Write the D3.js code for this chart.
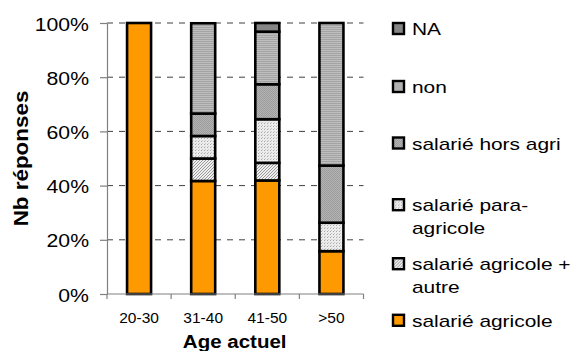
<!DOCTYPE html>
<html>
<head>
<meta charset="utf-8">
<script src="https://cdn.jsdelivr.net/npm/d3@7"></script>
<style>
  html, body { margin: 0; padding: 0; background: #fff; }
  svg { display: block; font-family: "Liberation Sans", Arial, sans-serif; }
</style>
</head>
<body>
<svg id="chart" width="575" height="351"></svg>
<script>
// Age groups along the x axis
const categories = ["20-30", "31-40", "41-50", ">50"];

// Share of answers (%) per age group, one array per answer
const salarieAgricole      = [100, 41.7, 41.9, 15.8];
const salarieAgricoleAutre = [0,   8.3,  6.5,  0];
const salarieParaAgricole  = [0,   8.3,  16.1, 10.5];
const salarieHorsAgri      = [0,   8.3,  12.9, 21.1];
const nonValues            = [0,   33.3, 19.4, 52.6];
const naValues             = [0,   0,    3.2,  0];

// Stack order, bottom to top
const seriesKeys = ["salarié agricole", "salarié agricole + autre", "salarié para-agricole",
                    "salarié hors agri", "non", "NA"];
const seriesValues = [salarieAgricole, salarieAgricoleAutre, salarieParaAgricole,
                      salarieHorsAgri, nonValues, naValues];

// Legend entries, top to bottom, with their wrapped lines
const legendKeys = ["NA", "non", "salarié hors agri", "salarié para-agricole",
                    "salarié agricole + autre", "salarié agricole"];
const legendLines = [["NA"], ["non"], ["salarié hors agri"], ["salarié para-", "agricole"],
                     ["salarié agricole +", "autre"], ["salarié agricole"]];

const yTicks = [0, 20, 40, 60, 80, 100];

const svg = d3.select("#chart");
const defs = svg.append("defs");

// Fill patterns for the grey series
function pattern(id, w, h, bg, draw) {
  const p = defs.append("pattern").attr("id", id).attr("patternUnits", "userSpaceOnUse")
    .attr("width", w).attr("height", h);
  p.append("rect").attr("width", w).attr("height", h).attr("fill", bg);
  draw(p);
}
pattern("pNon", 2, 2, "#bebebe", p => {
  p.append("rect").attr("y", 1).attr("width", 2).attr("height", 1).attr("fill", "#a4a4a4");
});
pattern("pHors", 2, 2, "#b3b3b3", p => {
  p.append("rect").attr("width", 1).attr("height", 1).attr("fill", "#9c9c9c");
  p.append("rect").attr("x", 1).attr("y", 1).attr("width", 1).attr("height", 1).attr("fill", "#9c9c9c");
});
pattern("pPara", 3, 3, "#ececec", p => {
  p.append("rect").attr("width", 1).attr("height", 1).attr("fill", "#a8a8a8");
  p.append("rect").attr("x", 1).attr("y", 2).attr("width", 1).attr("height", 1).attr("fill", "#c8c8c8");
});
pattern("pAutre", 3, 3, "#eeeeee", p => {
  p.append("path").attr("d", "M0,3 L3,0 M-1,1 L1,-1 M2,4 L4,2")
    .attr("stroke", "#9a9a9a").attr("stroke-width", 1);
});

const fills = {
  "salarié agricole": "#ff9900",
  "salarié agricole + autre": "url(#pAutre)",
  "salarié para-agricole": "url(#pPara)",
  "salarié hors agri": "url(#pHors)",
  "non": "url(#pNon)",
  "NA": "#858585"
};

// Plot area
const plotLeft = 107, plotRight = 363.5, plotTop = 23, plotBottom = 294;

const x = d3.scaleBand().domain(categories).range([plotLeft, plotRight]).paddingInner(0).paddingOuter(0);
const y = d3.scaleLinear().domain([0, 100]).range([plotBottom, plotTop]);

// Table for the stack layout
const table = categories.map((c, i) => {
  const row = { category: c };
  seriesKeys.forEach((k, j) => { row[k] = seriesValues[j][i]; });
  return row;
});
const stacked = d3.stack().keys(seriesKeys)(table);

// Dashed gridlines
svg.append("g").selectAll("line").data(yTicks.filter(d => d > 0)).join("line")
  .attr("x1", plotLeft).attr("x2", plotRight)
  .attr("y1", d => y(d)).attr("y2", d => y(d))
  .attr("stroke", "#404040").attr("stroke-width", 1).attr("stroke-dasharray", "6,6");

// Bars
const barW = 24;
svg.append("g").selectAll("g").data(stacked).join("g")
  .attr("fill", d => fills[d.key])
  .selectAll("rect").data(d => d).join("rect")
  .attr("x", d => x(d.data.category) + x.bandwidth() / 2 - barW / 2)
  .attr("width", barW)
  .attr("y", d => y(d[1]))
  .attr("height", d => y(d[0]) - y(d[1]))
  .attr("stroke", "#000").attr("stroke-width", 2.6);

// Y axis
const yAxis = svg.append("g").attr("transform", `translate(${plotLeft},0)`)
  .call(d3.axisLeft(y).tickValues(yTicks).tickFormat(d => d + "%").tickSize(7).tickSizeOuter(0));
yAxis.select(".domain").attr("stroke", "#808080").attr("stroke-width", 1.2);
yAxis.selectAll(".tick line").attr("stroke", "#808080").attr("stroke-width", 1.2);
yAxis.selectAll(".tick text")
  .attr("x", null).attr("dy", null)
  .attr("transform", "translate(-18,7) scale(1.18,1)")
  .attr("font-size", 18).attr("fill", "#000")
  .attr("font-family", "'Liberation Sans', Arial, sans-serif")
  .attr("text-anchor", "end");

// X axis: baseline, boundary ticks and centred labels
const xg = svg.append("g");
xg.append("line").attr("x1", plotLeft).attr("x2", plotRight).attr("y1", plotBottom).attr("y2", plotBottom)
  .attr("stroke", "#808080").attr("stroke-width", 1.2);
const bounds = categories.map(c => x(c)).concat([plotRight]);
xg.selectAll("line.tick").data(bounds).join("line").attr("class", "tick")
  .attr("x1", d => d).attr("x2", d => d).attr("y1", plotBottom).attr("y2", plotBottom + 5)
  .attr("stroke", "#808080").attr("stroke-width", 1.2);
xg.selectAll("text").data(categories).join("text")
  .attr("transform", d => `translate(${x(d) + x.bandwidth() / 2},322.5) scale(1.07,1)`)
  .attr("text-anchor", "middle").attr("font-size", 14.5).attr("fill", "#000")
  .text(d => d);

// Axis titles
svg.append("text")
  .attr("transform", "translate(234.7,348) scale(1.08,1)")
  .attr("text-anchor", "middle").attr("font-size", 19).attr("font-weight", "bold")
  .text("Age actuel");
svg.append("text")
  .attr("transform", "translate(28,158.5) rotate(-90) scale(1.18,1.1)")
  .attr("text-anchor", "middle").attr("font-size", 19).attr("font-weight", "bold")
  .text("Nb réponses");

// Legend
const legendY = [28.5, 86.5, 143, 204.7, 263.7, 320.3];
const lg = svg.append("g").selectAll("g").data(legendKeys).join("g")
  .attr("transform", (d, i) => `translate(392,${legendY[i]})`);
lg.append("rect")
  .attr("x", 1).attr("y", -5.5).attr("width", 11).attr("height", 11)
  .attr("fill", d => fills[d]).attr("stroke", "#000").attr("stroke-width", 2.4);
lg.each(function (d, i) {
  const g = d3.select(this);
  legendLines[i].forEach((line, j) => {
    g.append("text")
      .attr("transform", `translate(20,${6.5 + j * 22.6}) scale(1.23,1)`)
      .attr("font-size", 17).attr("fill", "#000")
      .text(line);
  });
});
</script>
</body>
</html>
